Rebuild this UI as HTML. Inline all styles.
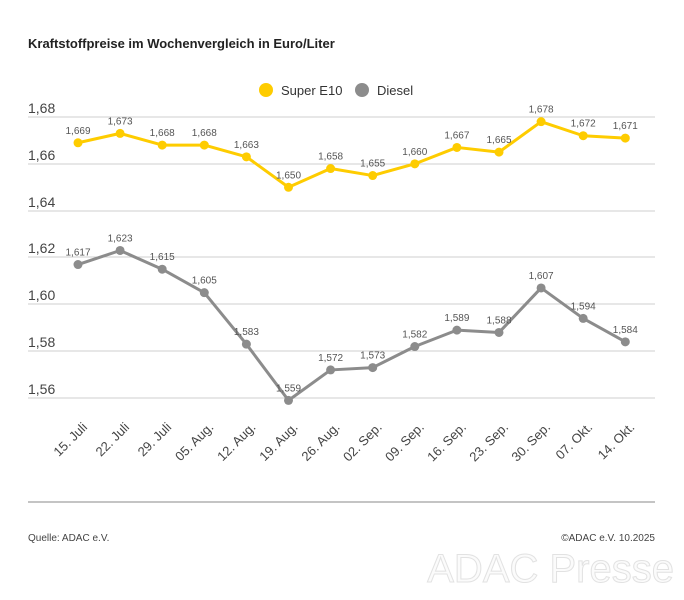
<!DOCTYPE html>
<html><head><meta charset="utf-8"><style>
body{margin:0;background:#fff;width:684px;height:600px;overflow:hidden}
svg{display:block;font-family:"Liberation Sans",sans-serif}
</style></head><body>
<svg width="684" height="600" viewBox="0 0 684 600">
<text x="28" y="48" font-size="13" font-weight="bold" fill="#222">Kraftstoffpreise im Wochenvergleich in Euro/Liter</text>
<circle cx="266" cy="90" r="7" fill="#fecc00"/><text x="281" y="95" font-size="13" fill="#333">Super E10</text>
<circle cx="362" cy="90" r="7" fill="#8c8c8c"/><text x="377" y="95" font-size="13" fill="#333">Diesel</text>
<g stroke="#cfcfcf" stroke-width="1">
<line x1="28" x2="655" y1="117" y2="117"/><line x1="28" x2="655" y1="164" y2="164"/><line x1="28" x2="655" y1="211" y2="211"/><line x1="28" x2="655" y1="257" y2="257"/><line x1="28" x2="655" y1="304" y2="304"/><line x1="28" x2="655" y1="351" y2="351"/><line x1="28" x2="655" y1="398" y2="398"/>
</g>
<line x1="28" x2="655" y1="502" y2="502" stroke="#c4c4c4" stroke-width="2"/>
<g font-size="14" fill="#444">
<text x="28" y="113">1,68</text><text x="28" y="160">1,66</text><text x="28" y="207">1,64</text><text x="28" y="253">1,62</text><text x="28" y="300">1,60</text><text x="28" y="347">1,58</text><text x="28" y="394">1,56</text>
</g>
<g id="c"></g>
<text x="28" y="541" font-size="10" fill="#444">Quelle: ADAC e.V.</text>
<text x="655" y="541" font-size="10" fill="#444" text-anchor="end">©ADAC e.V. 10.2025</text>
<text x="674" y="582" font-size="40" fill="#fbfbfb" stroke="#e2e2e2" stroke-width="1" text-anchor="end">ADAC Presse</text>
</svg>
<script>
const e=[1.669,1.673,1.668,1.668,1.663,1.650,1.658,1.655,1.660,1.667,1.665,1.678,1.672,1.671];
const d=[1.617,1.623,1.615,1.605,1.583,1.559,1.572,1.573,1.582,1.589,1.588,1.607,1.594,1.584];
const L=["15. Juli","22. Juli","29. Juli","05. Aug.","12. Aug.","19. Aug.","26. Aug.","02. Sep.","09. Sep.","16. Sep.","23. Sep.","30. Sep.","07. Okt.","14. Okt."];
const X=i=>78+i*42.1,Y=v=>117+(1.68-v)*2342;
let s="";
for(const [a,c] of [[e,"#fecc00"],[d,"#8c8c8c"]]){
s+=`<polyline fill="none" stroke="${c}" stroke-width="3" stroke-linejoin="round" points="${a.map((v,i)=>X(i)+","+Y(v)).join(" ")}"/>`;
a.forEach((v,i)=>{s+=`<circle cx="${X(i)}" cy="${Y(v)}" r="4.5" fill="${c}"/><text x="${X(i)}" y="${Y(v)-9}" font-size="10" fill="#555" text-anchor="middle">${v.toFixed(3).replace(".",",")}</text>`;});
}
L.forEach((t,i)=>{s+=`<text transform="translate(${X(i)+10},${428}) rotate(-45)" font-size="13" fill="#444" text-anchor="end">${t}</text>`;});
document.getElementById("c").innerHTML=s;
</script>
</body></html>
